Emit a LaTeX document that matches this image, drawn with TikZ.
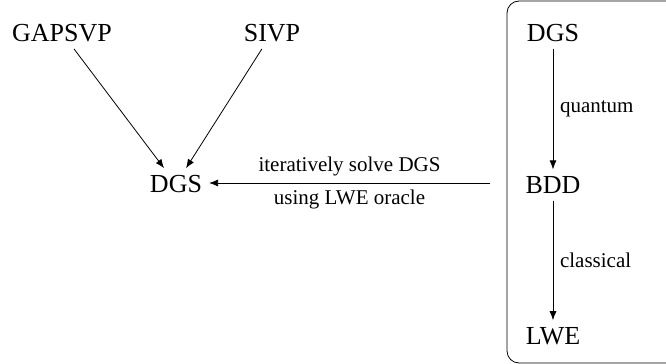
\documentclass[tikz,border=0pt]{standalone}
\usepackage{fontspec}
\setmainfont{Liberation Serif}
\usetikzlibrary{positioning, arrows.meta}

\tikzset{
	prob/.style={font=\rmfamily\fontsize{13}{15}\selectfont},
	lbl/.style={font=\rmfamily\fontsize{10.5}{12}\selectfont},
	redu/.style={-{Latex[length=4.5pt, width=3.5pt]}}
}

\begin{document}
\begin{tikzpicture}[x=0.5pt, y=-0.5pt]
	\clip (0,0) rectangle (666,364);
	% left part
	\node at (62,33) [prob] (gapsvp) {GAPSVP};
	\node at (272,33) [prob] (sivp) {SIVP};
	\node at (176,184) [prob] (dgs) {DGS};
	\draw [redu] (gapsvp) -- (dgs);
	\draw [redu] (sivp) -- (dgs);
	% the box with the quantum step
	\draw [rounded corners=6pt] (507,1) rectangle (720,363);
	\coordinate (boxout) at (490,183);
	\node at (553,33) [prob] (dgsq) {DGS};
	\node at (553,185) [prob] (bdd) {BDD};
	\node at (553,336) [prob] (lwe) {LWE};
	\draw [redu] (dgsq) -- node [right, lbl] {quantum} (bdd);
	\draw [redu] (bdd) -- node [right, lbl] {classical} (lwe);
	\draw [redu] (boxout) -- node [above, lbl] {iteratively solve DGS} node [below, lbl] {using LWE oracle} (dgs.east |- boxout);
\end{tikzpicture}
\end{document}
